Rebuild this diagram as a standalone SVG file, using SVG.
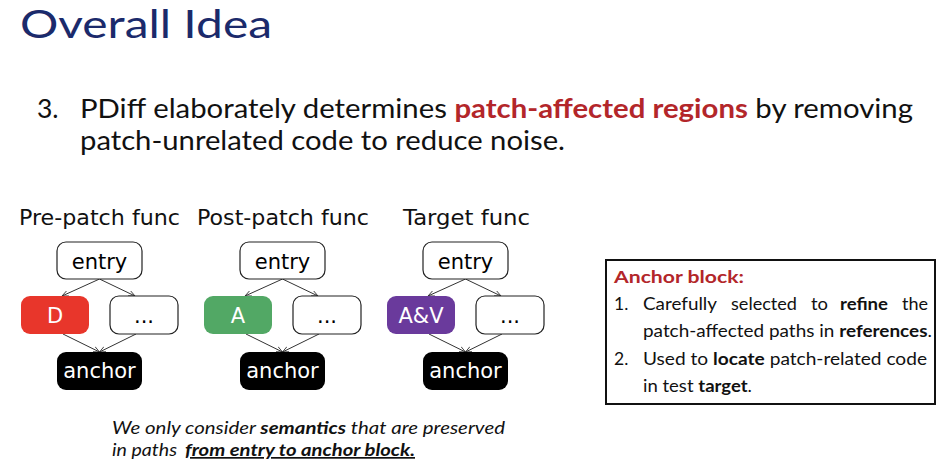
<svg xmlns="http://www.w3.org/2000/svg" width="947" height="470" viewBox="0 0 947 470">
<defs>
<style>
.hum{font-family:Lato,"Open Sans","Liberation Sans",sans-serif;}
.comic{font-family:"DejaVu Sans","Liberation Sans",sans-serif;}
.box{stroke:#222;stroke-width:1.2;}
.white{fill:#fff;}
.lbl{font-size:21px;text-anchor:middle;}
.edge{stroke:#333;stroke-width:1;fill:none;marker-end:url(#ah);}
</style>
<marker id="ah" viewBox="0 0 10 10" refX="9" refY="5" markerWidth="7" markerHeight="7" orient="auto" markerUnits="userSpaceOnUse">
<path d="M0,1 L9,5 L0,9" fill="none" stroke="#333" stroke-width="1.2"/>
</marker>
</defs>
<rect width="947" height="470" fill="#fff"/>

<g id="title">
<text class="hum" x="20" y="38" font-size="38" fill="#1b2a6b" textLength="252" lengthAdjust="spacingAndGlyphs">Overall Idea</text>
</g>

<g id="point3" class="hum" font-size="26.5" fill="#111">
<text x="37" y="118">3.</text>
<text x="80" y="118" textLength="833" lengthAdjust="spacingAndGlyphs">PDiff elaborately determines <tspan fill="#b3262a" font-weight="bold">patch-affected regions</tspan> by removing</text>
<text x="80" y="150" textLength="485" lengthAdjust="spacingAndGlyphs">patch-unrelated code to reduce noise.</text>
</g>

<g id="headers" class="comic" font-size="21" fill="#111">
<text x="19" y="225" textLength="161" lengthAdjust="spacingAndGlyphs">Pre-patch func</text>
<text x="197" y="225" textLength="172" lengthAdjust="spacingAndGlyphs">Post-patch func</text>
<text x="403" y="225" textLength="127" lengthAdjust="spacingAndGlyphs">Target func</text>
</g>

<g id="connectors">
<path class="edge" d="M99.5,279 L62,296"/>
<path class="edge" d="M99.5,279 L135,296"/>
<path class="edge" d="M63,334 L99.5,352"/>
<path class="edge" d="M136,334 L99.5,352"/>
<path class="edge" d="M282.5,279 L245,296"/>
<path class="edge" d="M282.5,279 L318,296"/>
<path class="edge" d="M246,334 L282.5,352"/>
<path class="edge" d="M319,334 L282.5,352"/>
<path class="edge" d="M465.5,279 L428,296"/>
<path class="edge" d="M465.5,279 L501,296"/>
<path class="edge" d="M429,334 L465.5,352"/>
<path class="edge" d="M502,334 L465.5,352"/>
</g>

<g id="pre-entry"><rect class="box" x="57" y="242" width="85" height="37" rx="9" fill="#fff"/><text class="comic lbl" x="99.5" y="269">entry</text></g>
<g id="pre-D"><rect x="21" y="296" width="68" height="38" rx="9" fill="#e8362b"/><text class="comic lbl white" x="55" y="323">D</text></g>
<g id="pre-dots"><rect class="box" x="110" y="296" width="68" height="38" rx="9" fill="#fff"/><text class="comic lbl" x="144" y="323">...</text></g>
<g id="pre-anchor"><rect x="57" y="352" width="85" height="38" rx="9" fill="#000"/><text class="comic lbl white" x="99.5" y="378">anchor</text></g>

<g id="post-entry"><rect class="box" x="240" y="242" width="85" height="37" rx="9" fill="#fff"/><text class="comic lbl" x="282.5" y="269">entry</text></g>
<g id="post-A"><rect x="204" y="296" width="68" height="38" rx="9" fill="#52a865"/><text class="comic lbl white" x="238" y="323">A</text></g>
<g id="post-dots"><rect class="box" x="293" y="296" width="68" height="38" rx="9" fill="#fff"/><text class="comic lbl" x="327" y="323">...</text></g>
<g id="post-anchor"><rect x="240" y="352" width="85" height="38" rx="9" fill="#000"/><text class="comic lbl white" x="282.5" y="378">anchor</text></g>

<g id="tgt-entry"><rect class="box" x="423" y="242" width="85" height="37" rx="9" fill="#fff"/><text class="comic lbl" x="465.5" y="269">entry</text></g>
<g id="tgt-AV"><rect x="387" y="296" width="68" height="38" rx="9" fill="#6a3a9c"/><text class="comic lbl white" x="421" y="323">A&amp;V</text></g>
<g id="tgt-dots"><rect class="box" x="476" y="296" width="68" height="38" rx="9" fill="#fff"/><text class="comic lbl" x="510" y="323">...</text></g>
<g id="tgt-anchor"><rect x="423" y="352" width="85" height="38" rx="9" fill="#000"/><text class="comic lbl white" x="465.5" y="378">anchor</text></g>

<g id="anchor-note" class="hum" font-size="17.5" fill="#111">
<rect x="606" y="260" width="329" height="144" fill="#fff" stroke="#111" stroke-width="2"/>
<text x="614" y="283" font-weight="bold" fill="#b3262a" textLength="130" lengthAdjust="spacingAndGlyphs">Anchor block:</text>
<text x="614" y="310">1.</text>
<text y="310"><tspan x="643" textLength="74" lengthAdjust="spacingAndGlyphs">Carefully</tspan><tspan x="731" textLength="66" lengthAdjust="spacingAndGlyphs">selected</tspan><tspan x="811" textLength="17" lengthAdjust="spacingAndGlyphs">to</tspan><tspan x="840" font-weight="bold" textLength="48" lengthAdjust="spacingAndGlyphs">refine</tspan><tspan x="902" textLength="26" lengthAdjust="spacingAndGlyphs">the</tspan></text>
<text x="643" y="337" textLength="289" lengthAdjust="spacingAndGlyphs">patch-affected paths in <tspan font-weight="bold">references</tspan>.</text>
<text x="614" y="365">2.</text>
<text x="643" y="365" textLength="284" lengthAdjust="spacingAndGlyphs">Used to <tspan font-weight="bold">locate</tspan> patch-related code</text>
<text x="643" y="392" textLength="109" lengthAdjust="spacingAndGlyphs">in test <tspan font-weight="bold">target</tspan>.</text>
</g>

<g id="footnote" class="hum" font-size="17" font-style="italic" fill="#111">
<text x="112" y="434" textLength="393" lengthAdjust="spacingAndGlyphs">We only consider <tspan font-weight="bold">semantics</tspan> that are preserved</text>
<text y="456"><tspan x="112" textLength="65" lengthAdjust="spacingAndGlyphs">in paths</tspan><tspan x="185" font-weight="bold" text-decoration="underline" textLength="230" lengthAdjust="spacingAndGlyphs">from entry to anchor block.</tspan></text>
</g>
</svg>
